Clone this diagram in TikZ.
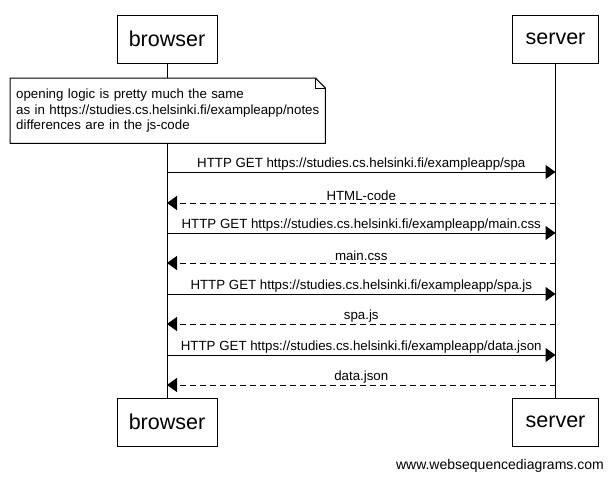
\documentclass[tikz,border=0pt]{standalone}
\usepackage{fontspec}
\setmainfont{Liberation Sans}
\usetikzlibrary{arrows.meta,positioning}

\tikzset{
  actor/.style={draw, line width=1pt, minimum width=100pt, minimum height=48pt,
    inner sep=0pt, font=\fontsize{21.5}{24}\selectfont},
  call/.style={line width=1pt, -{Triangle[length=10pt,width=14pt]}},
  reply/.style={call, dash pattern=on 6pt off 4pt},
  lbl/.style={above, inner sep=1.5pt, font=\fontsize{13.3}{15}\selectfont},
  memo/.style={fill=white, align=left, text width=303pt, inner xsep=6pt,
    minimum height=65pt, font=\fontsize{13.3}{15.5}\selectfont}
}

\begin{document}
\begin{tikzpicture}[x=1pt,y=-1pt]
      \useasboundingbox (0,0) rectangle (613,482);
      % participants
      \node[actor] (browserTop) at (167,39) {browser};
      \node[actor, minimum width=86pt] (serverTop) at (555.5,39) {server};
      \node[actor] (browserBot) at (167,422) {browser};
      \node[actor, minimum width=86pt] (serverBot) at (555.5,422) {server};
      \draw[line width=1pt] (browserTop) -- (browserBot);
      \draw[line width=1pt] (serverTop) -- (serverBot);
      % note
      \node[memo, anchor=north west] (note) at (10,78)
        {opening logic is pretty much the same\\as in https://studies.cs.helsinki.fi/exampleapp/notes\\differences are in the js-code};
      \draw[line width=1pt] (note.north west) -- ([xshift=-10pt]note.north east)
        -- ([yshift=-10pt]note.north east) -- (note.south east)
        -- (note.south west) -- cycle;
      \draw[line width=1pt] ([xshift=-10pt]note.north east) -- ([xshift=-10pt,yshift=-10pt]note.north east)
        -- ([yshift=-10pt]note.north east);
      % messages
      \foreach \i/\y in {1/172,2/203,3/233,4/263,5/294,6/324,7/355,8/385} {
        \coordinate (b\i) at (167,\y);
        \coordinate (s\i) at (555.5,\y);
      }
      \draw[call] (b1) -- node[lbl] {HTTP GET https://studies.cs.helsinki.fi/exampleapp/spa} (s1);
      \draw[reply] (s2) -- node[lbl] {HTML-code} (b2);
      \draw[call] (b3) -- node[lbl] {HTTP GET https://studies.cs.helsinki.fi/exampleapp/main.css} (s3);
      \draw[reply] (s4) -- node[lbl] {main.css} (b4);
      \draw[call] (b5) -- node[lbl] {HTTP GET https://studies.cs.helsinki.fi/exampleapp/spa.js} (s5);
      \draw[reply] (s6) -- node[lbl] {spa.js} (b6);
      \draw[call] (b7) -- node[lbl] {HTTP GET https://studies.cs.helsinki.fi/exampleapp/data.json} (s7);
      \draw[reply] (s8) -- node[lbl] {data.json} (b8);
      % watermark
      \node[anchor=east, inner sep=0pt, font=\fontsize{14}{16}\selectfont] (mark) at (604,466) {www.websequencediagrams.com};
\end{tikzpicture}
\end{document}
